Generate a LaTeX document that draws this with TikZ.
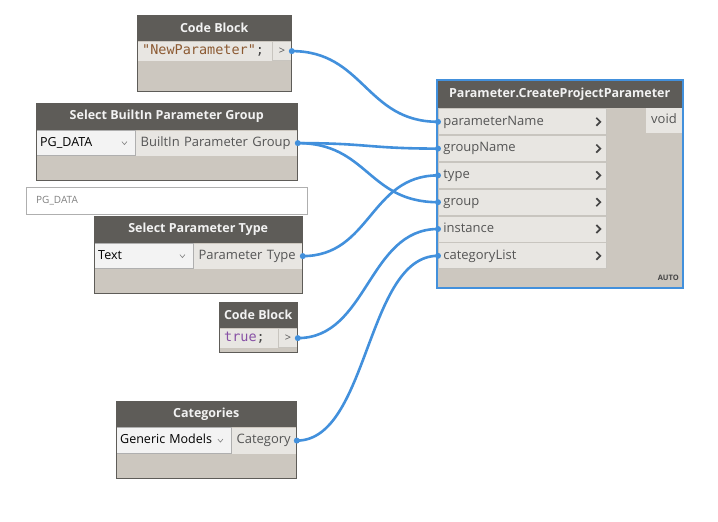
\documentclass[tikz,border=0pt]{standalone}
\usepackage{fontspec}
\setmainfont{Open Sans}
\setmonofont{DejaVu Sans Mono}
\usepackage{tikz}
\usetikzlibrary{positioning}
\definecolor{hdrgray}{RGB}{94,92,88}
\definecolor{bodygray}{RGB}{204,199,191}
\definecolor{rowgray}{RGB}{232,230,226}
\definecolor{rowline}{RGB}{200,197,191}
\definecolor{txtgray}{RGB}{85,85,85}
\definecolor{hdrtext}{RGB}{242,242,242}
\definecolor{dropwhite}{RGB}{243,243,243}
\definecolor{droprim}{RGB}{175,175,175}
\definecolor{wireblue}{RGB}{66,144,220}
\definecolor{strbrown}{RGB}{140,90,50}
\definecolor{boolpurple}{RGB}{135,80,165}
\definecolor{chevgray}{RGB}{70,70,70}
\tikzset{hdr/.style={fill=hdrgray,text=hdrtext,font=\bfseries\fontsize{12.5}{14}\selectfont,inner sep=0,anchor=north west}}
\tikzset{row/.style={fill=rowgray,text=txtgray,font=\fontsize{13}{15}\selectfont,inner xsep=5,inner ysep=0,minimum height=25,text height=9.5,text depth=3,anchor=north west,align=left}}
\tikzset{coderow/.style={row,font=\ttfamily\fontsize{13.5}{15}\selectfont,text=chevgray,minimum height=19}}
\tikzset{portcell/.style={fill=rowgray,draw=rowline,text=txtgray,font=\fontsize{11}{12}\selectfont,inner sep=0,minimum height=19,minimum width=19}}
\tikzset{dropbox/.style={fill=dropwhite,draw=droprim,text=black,font=\fontsize{12.5}{14}\selectfont,inner xsep=4,inner ysep=0,minimum height=25,text height=9,text depth=3,anchor=north west,align=left}}
\tikzset{inrow/.style={row,draw=rowline,line width=0.8,minimum height=26,text width=158}}
\tikzset{boxline/.style={draw=hdrgray,line width=1}}
\tikzset{wire/.style={draw=wireblue,line width=2.6}}
\tikzset{chev/.style={draw=chevgray,line width=1.7}}
\tikzset{dropchev/.style={draw=gray,line width=0.6}}

\begin{document}
\begin{tikzpicture}[x=1pt,y=-1pt]
\useasboundingbox (0,0) rectangle (718,522);

% Code Block "NewParameter"
\fill[bodygray] (137,15) rectangle (291,91);
\node[hdr,minimum width=154,minimum height=26] (cbA) at (137,15) {Code Block};
\node[coderow,text width=125] (cbAval) at (cbA.south west) {\textcolor{strbrown}{"NewParameter"};};
\node[portcell,right=0pt of cbAval] (cbAout) {>};
\draw[boxline] (137,15) rectangle (291,91);

% Select BuiltIn Parameter Group
\fill[bodygray] (36,103) rectangle (297,180);
\node[hdr,minimum width=261,minimum height=27] (selGrp) at (36,103) {Select BuiltIn Parameter Group};
\node[dropbox,text width=91] (selGrpDrop) at (selGrp.south west) {PG\_DATA};
\node[row,text width=152,right=0pt of selGrpDrop] (selGrpOut) {BuiltIn Parameter Group};
\draw[dropchev] ([xshift=-11]selGrpDrop.east) +(-2.5,-1.5) -- +(0,1.5) -- +(2.5,-1.5);
\draw[boxline] (36,103) rectangle (297,180);

% PG_DATA text field
\node[draw=droprim,fill=white,text=gray,font=\fontsize{10}{12}\selectfont,inner xsep=10,inner ysep=0,text width=261,minimum height=27,align=left,anchor=north west] (pgBox) at (26,187) {PG\_DATA};

% Select Parameter Type
\fill[bodygray] (94,216) rectangle (302,293);
\node[hdr,minimum width=208,minimum height=27] (selType) at (94,216) {Select Parameter Type};
\node[dropbox,text width=91] (selTypeDrop) at (selType.south west) {Text};
\node[row,text width=99,right=0pt of selTypeDrop] (selTypeOut) {Parameter Type};
\draw[dropchev] ([xshift=-11]selTypeDrop.east) +(-2.5,-1.5) -- +(0,1.5) -- +(2.5,-1.5);
\draw[boxline] (94,216) rectangle (302,293);

% Code Block true
\fill[bodygray] (219,302) rectangle (297,352);
\node[hdr,minimum width=78,minimum height=26] (cbB) at (219,302) {Code Block};
\node[coderow,text width=49] (cbBval) at (cbB.south west) {\textcolor{boolpurple}{true};};
\node[portcell,right=0pt of cbBval] (cbBout) {>};
\draw[boxline] (219,302) rectangle (297,352);

% Categories
\fill[bodygray] (116,401) rectangle (296,478);
\node[hdr,minimum width=180,minimum height=26] (cats) at (116,401) {Categories};
\node[dropbox,text width=107,minimum height=26] (catsDrop) at (cats.south west) {Generic Models};
\node[row,text width=55,minimum height=26,right=0pt of catsDrop] (catsOut) {Category};
\draw[dropchev] ([xshift=-11]catsDrop.east) +(-2.5,-1.5) -- +(0,1.5) -- +(2.5,-1.5);
\draw[boxline] (116,401) rectangle (296,478);

% Parameter.CreateProjectParameter
\fill[bodygray] (437,80) rectangle (683,288);
\node[hdr,minimum width=245,minimum height=28] (cpp) at (437,80) {Parameter.CreateProjectParameter};
\node[inrow] (pName) at ([xshift=1]cpp.south west) {parameterName};
\node[inrow,below=0pt of pName] (pGroupName) {groupName};
\node[inrow,below=0pt of pGroupName] (pType) {type};
\node[inrow,below=0pt of pType] (pGroup) {group};
\node[inrow,below=0pt of pGroup] (pInst) {instance};
\node[inrow,below=0pt of pInst] (pCat) {categoryList};
\node[row,inner xsep=5,minimum height=25,anchor=north east] (pVoid) at (682,108) {void};
\node[font=\bfseries\fontsize{7.5}{9}\selectfont,text=chevgray,anchor=base east,inner sep=0] (cppLace) at (679,280) {AUTO};
\draw[chev] ([xshift=-8]pName.east) +(-2.5,-4) -- +(1.5,0) -- +(-2.5,4);
\draw[chev] ([xshift=-8]pGroupName.east) +(-2.5,-4) -- +(1.5,0) -- +(-2.5,4);
\draw[chev] ([xshift=-8]pType.east) +(-2.5,-4) -- +(1.5,0) -- +(-2.5,4);
\draw[chev] ([xshift=-8]pGroup.east) +(-2.5,-4) -- +(1.5,0) -- +(-2.5,4);
\draw[chev] ([xshift=-8]pInst.east) +(-2.5,-4) -- +(1.5,0) -- +(-2.5,4);
\draw[chev] ([xshift=-8]pCat.east) +(-2.5,-4) -- +(1.5,0) -- +(-2.5,4);
\draw[draw=wireblue,line width=2] (437,80) rectangle (683,288);

% wires
\draw[wire] (cbAout.east) .. controls +(72,0) and +(-72,0) .. (pName.west);
\draw[wire] (selGrpOut.east) .. controls +(70,0) and +(-70,0) .. (pGroupName.west);
\draw[wire] (selGrpOut.east) .. controls +(70,0) and +(-70,0) .. (pGroup.west);
\draw[wire] (selTypeOut.east) .. controls +(68,0) and +(-68,0) .. (pType.west);
\draw[wire] (cbBout.east) .. controls +(70,0) and +(-70,0) .. (pInst.west);
\draw[wire] (catsOut.east) .. controls +(72,0) and +(-72,0) .. (pCat.west);
\fill[wireblue] (cbAout.east) circle (3pt);
\fill[wireblue] (selGrpOut.east) circle (3pt);
\fill[wireblue] (selTypeOut.east) circle (3pt);
\fill[wireblue] (cbBout.east) circle (3pt);
\fill[wireblue] (catsOut.east) circle (3pt);
\fill[wireblue] (pName.west) circle (3pt);
\fill[wireblue] (pGroupName.west) circle (3pt);
\fill[wireblue] (pType.west) circle (3pt);
\fill[wireblue] (pGroup.west) circle (3pt);
\fill[wireblue] (pInst.west) circle (3pt);
\fill[wireblue] (pCat.west) circle (3pt);

\end{tikzpicture}
\end{document}
